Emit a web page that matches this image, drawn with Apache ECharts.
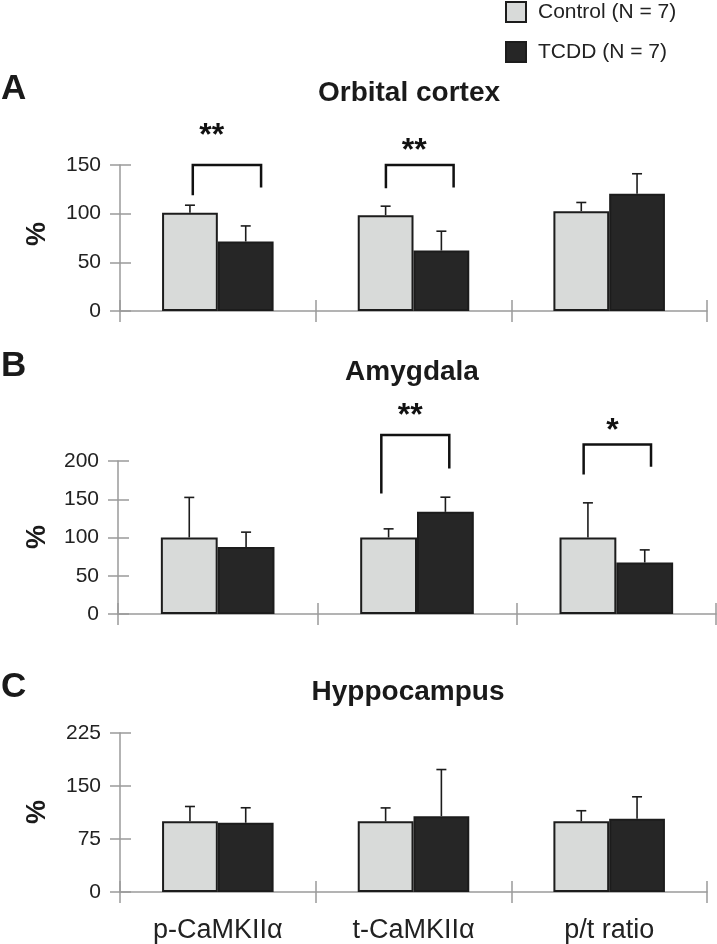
<!DOCTYPE html>
<html>
<head>
<meta charset="utf-8">
<script src="https://cdn.jsdelivr.net/npm/echarts@6/dist/echarts.min.js"></script>
<style>html,body{margin:0;padding:0;background:#fff}#c{width:717px;height:944px}</style>
</head>
<body>
<div id="c"></div>
<script>
// ---------- data ----------
const categories = ['p-CaMKII\u03b1', 't-CaMKII\u03b1', 'p/t ratio'];
const seriesNames = ['Control (N = 7)', 'TCDD (N = 7)'];
const panelLetters = ['A', 'B', 'C'];
const panelTitles = ['Orbital cortex', 'Amygdala', 'Hyppocampus'];

const orbitalControl = [101, 98.5, 102.6];
const orbitalControlErr = [7.7, 9.2, 8.9];
const orbitalTCDD = [71.4, 62.1, 120.4];
const orbitalTCDDErr = [16, 19.9, 20.6];

const amygdalaControl = [100, 100, 100];
const amygdalaControlErr = [52.4, 11.3, 45.3];
const amygdalaTCDD = [87.7, 133.5, 67.3];
const amygdalaTCDDErr = [19.3, 19.2, 16.5];

const hippoControl = [100, 100, 100];
const hippoControlErr = [21, 19, 15];
const hippoTCDD = [98, 107.3, 103.7];
const hippoTCDDErr = [21.2, 66, 31];

const orbitalTicks = [0, 50, 100, 150];
const amygdalaTicks = [0, 50, 100, 150, 200];
const hippoTicks = [0, 75, 150, 225];

// significance brackets: category, top, left leg end, right leg end, star level, label
const orbitalBrackets = [
  {cat: 0, top: 150, left: 119, right: 127, star: 186, text: '**'},
  {cat: 1, top: 150, left: 126, right: 127, star: 170.5, text: '**'}
];
const amygdalaBrackets = [
  {cat: 1, top: 234, left: 157.6, right: 190.3, star: 266.6, text: '**'},
  {cat: 2, top: 221.7, left: 182.5, right: 192.4, star: 247, text: '*'}
];
const hippoBrackets = [];

// ---------- layout / style ----------
const FONT = '"Liberation Sans", Arial, Helvetica, sans-serif';
const AXIS_COLOR = '#9a9a9a';
const TEXT_COLOR = '#222';
const CTRL_FILL = '#d8dad9';
const TCDD_FILL = '#262626';
const EDGE = '#1c1c1c';
const CAT_GAP = 0.43;

const panels = [
  {ctrl: orbitalControl, ctrlErr: orbitalControlErr, tcdd: orbitalTCDD, tcddErr: orbitalTCDDErr, ticks: orbitalTicks, brackets: orbitalBrackets,
   grid: {left: 120, top: 165, width: 587, height: 146}, legs: [[-0.128, 0.221], [-0.141, 0.205]], starDx: [-0.031, 0.004],
   letterY: 90, titleX: 409, titleY: 93, pctY: 234},
  {ctrl: amygdalaControl, ctrlErr: amygdalaControlErr, tcdd: amygdalaTCDD, tcddErr: amygdalaTCDDErr, ticks: amygdalaTicks, brackets: amygdalaBrackets,
   grid: {left: 118, top: 461, width: 598, height: 153}, legs: [[-0.179, 0.162], [-0.164, 0.174]], starDx: [-0.034, -0.019],
   letterY: 367, titleX: 412, titleY: 372, pctY: 537},
  {ctrl: hippoControl, ctrlErr: hippoControlErr, tcdd: hippoTCDD, tcddErr: hippoTCDDErr, ticks: hippoTicks, brackets: hippoBrackets,
   grid: {left: 120, top: 733, width: 587, height: 160}, legs: [], starDx: [],
   letterY: 688, titleX: 408, titleY: 692, pctY: 812}
];

const grids = [], xAxes = [], yAxes = [], series = [], graphics = [];

panels.forEach((p, i) => {
  grids.push(Object.assign({containLabel: false}, p.grid));
  const tMin = p.ticks[0], tMax = p.ticks[p.ticks.length - 1], tInt = p.ticks[1] - p.ticks[0];
  // main x axis
  xAxes.push({
    type: 'category', gridIndex: i, position: 'bottom', data: categories, boundaryGap: true,
    axisLine: {show: true, lineStyle: {color: AXIS_COLOR, width: 1.5}},
    axisTick: {show: true, inside: false, length: 11, lineStyle: {color: AXIS_COLOR, width: 1.5}},
    axisLabel: {show: i === 2, fontSize: 27, fontFamily: FONT, color: TEXT_COLOR, margin: 25},
    splitLine: {show: false}
  });
  // overlay x axis (ticks crossing inward)
  xAxes.push({
    type: 'category', gridIndex: i, position: 'bottom', data: categories, boundaryGap: true,
    axisLine: {show: false},
    axisTick: {show: true, inside: true, length: 11, lineStyle: {color: AXIS_COLOR, width: 1.5}},
    axisLabel: {show: false}, splitLine: {show: false}
  });
  yAxes.push({
    type: 'value', gridIndex: i, position: 'left', min: tMin, max: tMax, interval: tInt,
    axisLine: {show: true, lineStyle: {color: AXIS_COLOR, width: 1.5}},
    axisTick: {show: true, inside: false, length: 10, lineStyle: {color: AXIS_COLOR, width: 1.5}},
    axisLabel: {show: true, fontSize: 21, fontFamily: FONT, color: TEXT_COLOR, margin: 19},
    splitLine: {show: false}
  });
  yAxes.push({
    type: 'value', gridIndex: i, position: 'left', offset: 0, min: tMin, max: tMax, interval: tInt,
    axisLine: {show: false},
    axisTick: {show: true, inside: true, length: 11, lineStyle: {color: AXIS_COLOR, width: 1.5}},
    axisLabel: {show: false}, splitLine: {show: false}
  });
  const xi = 2 * i, yi = 2 * i;
  series.push({
    name: seriesNames[0], type: 'bar', xAxisIndex: xi, yAxisIndex: yi, data: p.ctrl,
    barGap: '0%', barCategoryGap: (CAT_GAP * 100) + '%',
    itemStyle: {color: CTRL_FILL, borderColor: EDGE, borderWidth: 2}, z: 2
  });
  series.push({
    name: seriesNames[1], type: 'bar', xAxisIndex: xi, yAxisIndex: yi, data: p.tcdd,
    barGap: '0%', barCategoryGap: (CAT_GAP * 100) + '%',
    itemStyle: {color: TCDD_FILL, borderColor: EDGE, borderWidth: 2}, z: 2
  });
  // error bars
  const errData = [];
  p.ctrl.forEach((v, k) => errData.push([k, v, v + p.ctrlErr[k], 0]));
  p.tcdd.forEach((v, k) => errData.push([k, v, v + p.tcddErr[k], 1]));
  series.push({
    type: 'custom', xAxisIndex: xi, yAxisIndex: yi, data: errData, clip: false, z: 3,
    encode: {x: 0, y: [1, 2]}, silent: true,
    renderItem: function (params, api) {
      const cat = api.value(0), mean = api.value(1), top = api.value(2), g = api.value(3);
      const catW = api.size([1, 0])[0];
      const bw = catW * (1 - CAT_GAP) / 2;
      const b = api.coord([cat, mean]);
      const t = api.coord([cat, top]);
      const x = b[0] + (g === 0 ? -bw / 2 : bw / 2);
      const st = {stroke: EDGE, lineWidth: 1.6};
      return {type: 'group', children: [
        {type: 'line', shape: {x1: x, y1: b[1], x2: x, y2: t[1]}, style: st},
        {type: 'line', shape: {x1: x - 5, y1: t[1], x2: x + 5, y2: t[1]}, style: st}
      ]};
    }
  });
  if (p.brackets.length) {
    const bData = p.brackets.map(b => [b.cat, b.top, b.left, b.right, b.star]);
    series.push({
      type: 'custom', xAxisIndex: xi, yAxisIndex: yi, data: bData, clip: false, z: 4, silent: true,
      encode: {x: 0, y: 1},
      renderItem: function (params, api) {
        const k = params.dataIndex;
        const cat = api.value(0);
        const catW = api.size([1, 0])[0];
        const c = api.coord([cat, api.value(1)]);
        const yl = api.coord([cat, api.value(2)])[1];
        const yr = api.coord([cat, api.value(3)])[1];
        const ys = api.coord([cat, api.value(4)])[1];
        const xl = c[0] + p.legs[k][0] * catW;
        const xr = c[0] + p.legs[k][1] * catW;
        const xs = c[0] + p.starDx[k] * catW;
        return {type: 'group', children: [
          {type: 'polyline', shape: {points: [[xl, yl], [xl, c[1]], [xr, c[1]], [xr, yr]]},
           style: {stroke: '#111', lineWidth: 2.5, fill: null}},
          {type: 'text', x: xs, y: ys + 6,
           style: {text: p.brackets[k].text, font: 'bold 32px ' + FONT, fill: '#111', align: 'center', verticalAlign: 'middle'}}
        ]};
      }
    });
  }
  graphics.push({type: 'text', left: 1, top: p.letterY - 18,
    style: {text: panelLetters[i], font: 'bold 35px ' + FONT, fill: '#1a1a1a'}});
  graphics.push({type: 'text', x: p.titleX, y: p.titleY,
    style: {text: panelTitles[i], font: 'bold 28px ' + FONT, fill: '#1a1a1a', align: 'center', verticalAlign: 'middle'}});
  graphics.push({type: 'text', x: 38, y: p.pctY, rotation: Math.PI / 2,
    style: {text: '%', font: 'bold 27px ' + FONT, fill: '#1a1a1a', align: 'center', verticalAlign: 'middle'}});
});

const chart = echarts.init(document.getElementById('c'), null, {renderer: 'canvas'});
chart.setOption({
  animation: false,
  backgroundColor: '#fff',
  grid: grids,
  xAxis: xAxes,
  yAxis: yAxes,
  legend: {
    data: seriesNames, orient: 'vertical', left: 505, top: 1, padding: 0,
    itemWidth: 20, itemHeight: 20, itemGap: 18, icon: 'rect',
    textStyle: {fontSize: 21, fontFamily: FONT, color: TEXT_COLOR, padding: [0, 0, 0, 7]},
    selectedMode: false
  },
  series: series,
  graphic: graphics
});
</script>
</body>
</html>
